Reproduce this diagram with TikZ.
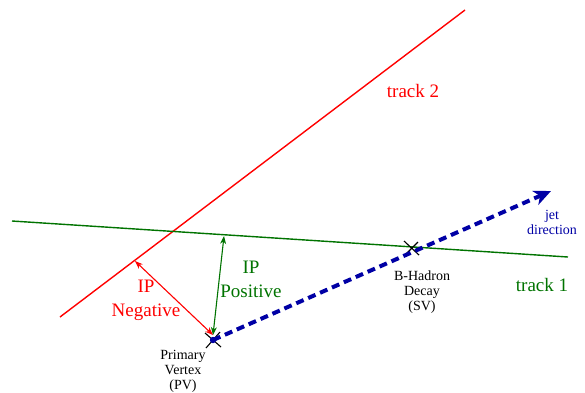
\documentclass[tikz,border=0pt]{standalone}
\usepackage{fontspec}
\setmainfont{Liberation Serif}
\usetikzlibrary{arrows.meta}
\definecolor{trk}{RGB}{0,115,0}
\definecolor{jetb}{RGB}{0,0,165}
\begin{document}
\begin{tikzpicture}[x=1pt,y=-1pt,
  trackline/.style={line width=1.4pt},
  ip/.style={line width=1.1pt,{Stealth[length=8pt,width=6pt]}-{Stealth[length=8pt,width=6pt]}},
  big/.style={font=\fontsize{19}{24}\selectfont,align=center,inner sep=0pt},
  small/.style={font=\fontsize{14}{15}\selectfont,align=center,inner sep=0pt},
  xmark/.style={line width=1.1pt,black}]
\useasboundingbox (0,0) rectangle (585,392);
\coordinate (t2a) at (60,317);
\coordinate (t2b) at (465,10);
\coordinate (t1a) at (12,221);
\coordinate (t1b) at (568,257);
\coordinate (PV) at (213,340);
\coordinate (pvtop) at (213,335);
\coordinate (SV) at (411,249);
\coordinate (jetend) at (551,191);
\coordinate (negfoot) at (135,261);
\coordinate (posfoot) at (224,236);
\draw[red,trackline] (t2a) -- (t2b);
\draw[trk,trackline] (t1a) -- (t1b);
\draw[xmark,shift={(PV)}] (-8,-7) -- (8,7) (-7,8) -- (7,-8);
\draw[xmark,shift={(SV)}] (-7,-8) -- (8,6) (-7,7) -- (7,-7);
\draw[jetb,line width=4pt,dash pattern=on 8pt off 5pt,-{Stealth[length=17pt,width=15pt,inset=5pt]}] (PV) -- (jetend);
\fill[jetb] (PV) circle (3.2pt);
\draw[red,ip] (pvtop) -- (negfoot);
\draw[trk,ip] (pvtop) -- (posfoot);
\node[big,red] (ipneg) at (146,300) {IP\\Negative};
\node[big,trk] (ippos) at (251,279) {IP\\Positive};
\node[big,red] (t2lab) at (413,91) {track 2};
\node[big,trk] (t1lab) at (542,285) {track 1};
\node[small,jetb] (jetlab) at (552,222) {jet\\direction};
\node[small] (pvlab) at (183,371) {Primary\\Vertex\\(PV)};
\node[small] (svlab) at (422,292) {B-Hadron\\Decay\\(SV)};
\end{tikzpicture}
\end{document}
